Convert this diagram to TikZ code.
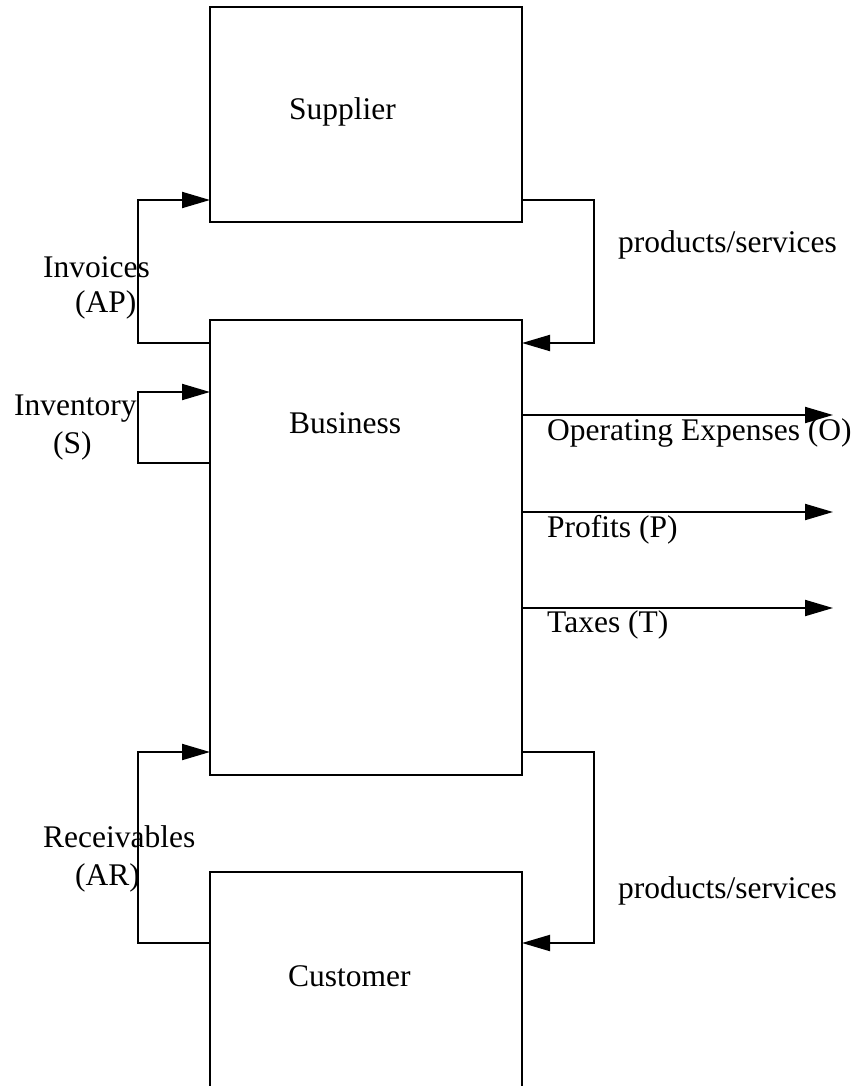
\documentclass[tikz,border=0pt]{standalone}
\usepackage{fontspec}
\setmainfont{Liberation Serif}
\usetikzlibrary{arrows.meta}
\tikzset{
  box/.style={draw=black, line width=2pt, inner sep=0pt, outer sep=0pt, minimum width=312pt},
  arr/.style={draw=black, line width=2pt, -{Triangle[length=28pt,width=16pt]}},
  lbl/.style={inner sep=0pt, anchor=base west, font=\fontsize{31.5}{37}\selectfont}
}
\begin{document}
\begin{tikzpicture}[x=1pt,y=-1pt]
\useasboundingbox (0,0) rectangle (858,1086);
\clip (0,0) rectangle (858,1086);
\fill[white] (0,0) rectangle (858,1086);
% boxes
\node[box, minimum height=215pt] (supplier) at (366,114.5) {};
\node[box, minimum height=455pt] (business) at (366,547.5) {};
\node[box, minimum height=260pt] (customer) at (366,1002) {};
% box labels
\node[lbl] (tsup) at (289,120) {Supplier};
\node[lbl] (tbus) at (289,433) {Business};
\node[lbl] (tcus) at (288,986) {Customer};
% free ends
\coordinate (oend) at (833,415);
\coordinate (pend) at (833,512);
\coordinate (tend) at (833,608);
% connectors
\draw[arr] ([yshift=-23pt]business.north west) -- ++(-72,0) |- ([yshift=22pt]supplier.south west);
\draw[arr] ([yshift=22pt]supplier.south east) -- ++(72,0) |- ([yshift=-23pt]business.north east);
\draw[arr] ([yshift=-143pt]business.north west) -- ++(-72,0) |- ([yshift=-72pt]business.north west);
\draw[arr] (business.east |- oend) -- (oend);
\draw[arr] (business.east |- pend) -- (pend);
\draw[arr] (business.east |- tend) -- (tend);
\draw[arr] ([yshift=-71pt]customer.north west) -- ++(-72,0) |- ([yshift=23pt]business.south west);
\draw[arr] ([yshift=23pt]business.south east) -- ++(72,0) |- ([yshift=-71pt]customer.north east);
% connector labels
\node[lbl] (linv1) at (43,277) {Invoices};
\node[lbl] (linv2) at (75,312) {(AP)};
\node[lbl] (lps1) at (618,252) {products/services};
\node[lbl] (linvt1) at (14,415) {Inventory};
\node[lbl] (linvt2) at (53,453) {(S)};
\node[lbl] (lop) at (547,440) {Operating Expenses (O)};
\node[lbl] (lpr) at (547,537) {Profits (P)};
\node[lbl] (ltx) at (547,632) {Taxes (T)};
\node[lbl] (lrec1) at (43,847) {Receivables};
\node[lbl] (lrec2) at (75,885) {(AR)};
\node[lbl] (lps2) at (618,898) {products/services};
\end{tikzpicture}
\end{document}
